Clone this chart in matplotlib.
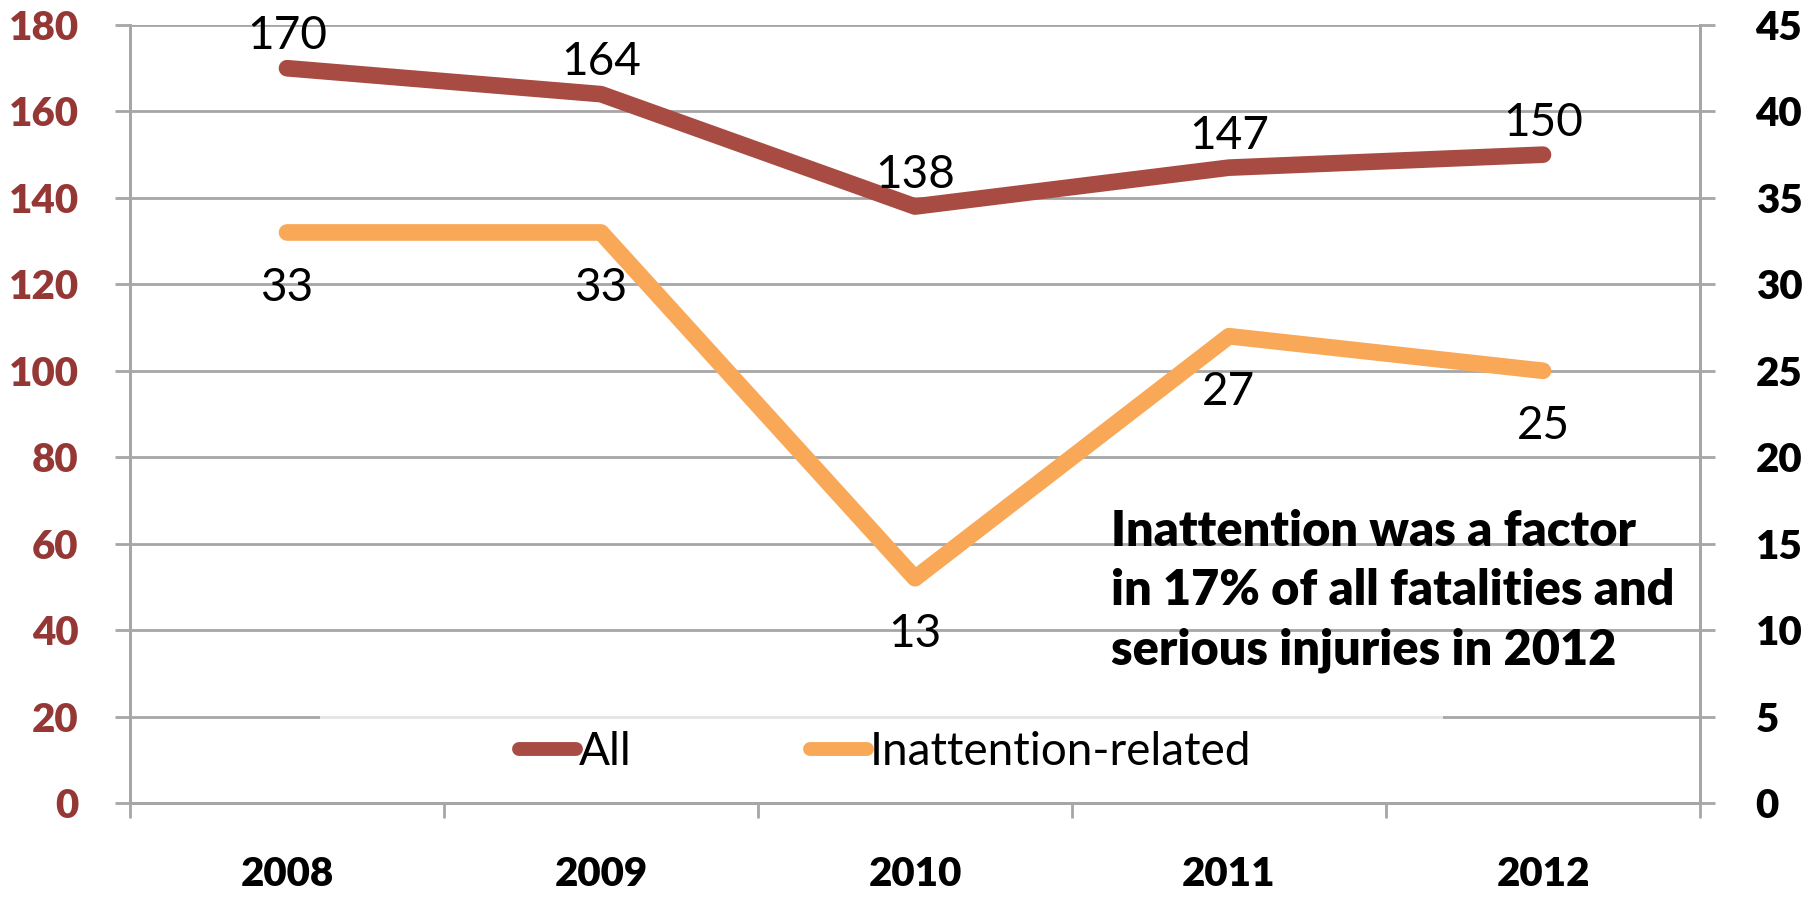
import matplotlib
matplotlib.use('Agg')
import matplotlib.pyplot as plt
from matplotlib.patches import Rectangle

years = ['2008', '2009', '2010', '2011', '2012']
all_cases = [170, 164, 138, 147, 150]
inattention = [33, 33, 13, 27, 25]

plt.rcParams['font.family'] = ['Lato', 'DejaVu Sans']

red = '#A84B43'
orange = '#F9A857'
grid_col = '#A6A6A6'

fig = plt.figure(figsize=(18.11, 8.98), dpi=100)
ax = fig.add_axes([130/1811, 95/898, 1570/1811, 778/898])
ax2 = ax.twinx()

x = list(range(len(years)))
l1, = ax.plot(x, all_cases, color=red, lw=12, solid_capstyle='round', label='All', zorder=3)
l2, = ax2.plot(x, inattention, color=orange, lw=12, solid_capstyle='round',
               label='Inattention-related', zorder=3)

ax.set_xlim(-0.5, 4.5)
ax.set_ylim(0, 180)
ax2.set_ylim(0, 45)
ax.set_yticks(range(0, 181, 20))
ax2.set_yticks(range(0, 46, 5))
ax.yaxis.grid(True, color=grid_col, lw=2)
ax.set_axisbelow(True)

for a in (ax, ax2):
    for s in a.spines.values():
        s.set_color(grid_col)
        s.set_linewidth(2)
    a.spines['top'].set_visible(False)

ax.set_xticks(x)
ax.set_xticklabels(years, fontsize=29, fontweight='heavy')
ax.set_xticks([i - 0.5 for i in range(len(years) + 1)], minor=True)
ax.tick_params(axis='x', which='major', length=0, pad=38)
ax.tick_params(axis='x', which='minor', length=11, width=2, color=grid_col)
ax.tick_params(axis='y', length=11, width=2, color=grid_col, pad=26,
               labelsize=29, labelcolor='#953735')
for t in ax.get_yticklabels():
    t.set_fontweight('heavy')
ax2.tick_params(axis='y', length=11, width=2, color=grid_col, pad=29, labelsize=29)
for t in ax2.get_yticklabels():
    t.set_fontweight('heavy')

# data labels
for i, v in enumerate(all_cases):
    ax.annotate(str(v), (i, v), xytext=(0, 23), textcoords='offset points',
                ha='center', va='center', fontsize=33)
for i, v in enumerate(inattention):
    ax2.annotate(str(v), (i, v), xytext=(0, -40), textcoords='offset points',
                 ha='center', va='center', fontsize=33)

ax2.text(0.625, 0.378, 'Inattention was a factor\nin 17% of all fatalities and\nserious injuries in 2012',
         transform=ax2.transAxes, ha='left', va='top', fontsize=35, fontweight='heavy',
         linespacing=1.38)

# translucent legend background
ax.add_patch(Rectangle((0.121, 0.01), 0.715, 0.105, transform=ax.transAxes,
                       facecolor='white', alpha=0.7, edgecolor='none', zorder=2))

leg = ax2.legend(handles=[l1, l2], loc='center', bbox_to_anchor=(0.481, 0.066), ncol=2,
                 fontsize=33, frameon=False,
                 handlelength=1.25, handletextpad=0.05, columnspacing=3.9)
for h in leg.get_lines():
    h.set_solid_capstyle('round')
    h.set_linewidth(10)

fig.savefig('out.png', dpi=100)
